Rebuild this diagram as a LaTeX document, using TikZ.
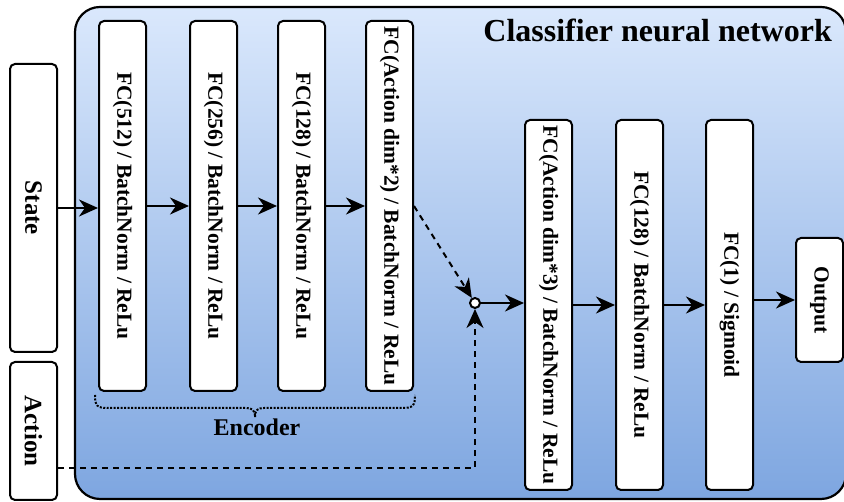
\documentclass[tikz,border=0pt]{standalone}
\usepackage{fontspec}
\setmainfont{Liberation Serif}
\usepackage{graphicx}
\usetikzlibrary{arrows.meta}
\definecolor{panetop}{HTML}{DAE8FC}
\definecolor{panebottom}{HTML}{7EA6E0}
\begin{document}
\begin{tikzpicture}[x=1pt,y=1pt,
  layer/.style={draw, line width=2pt, fill=white, rounded corners=5pt,
    inner sep=0pt, minimum width=47pt, minimum height=370pt,
    font=\fontsize{21.5}{24}\selectfont\bfseries},
  io/.style={layer, minimum height=288pt},
  arr/.style={line width=2pt, -{Stealth[length=19pt, width=17pt, inset=6pt]}},
  dash line/.style={arr, dash pattern=on 6pt off 5pt}]
\useasboundingbox (0,0) rectangle (844,502);

% classifier container with vertical gradient
\draw[line width=2.2pt, rounded corners=25pt, top color=panetop, bottom color=panebottom]
  (75,3) rectangle (846,495);
\node[anchor=base east, inner sep=0pt, font=\fontsize{32}{36}\selectfont\bfseries]
  (title) at (832,460) {Classifier neural network};

% inputs
\node[io, font=\fontsize{25}{28}\selectfont\bfseries] (state) at (33.5,294) {\rotatebox{-90}{State}};
\node[io, minimum height=138pt, font=\fontsize{25}{28}\selectfont\bfseries] (action) at (33.5,71) {\rotatebox{-90}{Action}};

% encoder layers
\node[layer] (e1) at (122.5,296) {\rotatebox{-90}{FC(512) / BatchNorm / ReLu}};
\node[layer] (e2) at (213.5,296) {\rotatebox{-90}{FC(256) / BatchNorm / ReLu}};
\node[layer] (e3) at (301.5,296) {\rotatebox{-90}{FC(128) / BatchNorm / ReLu}};
\node[layer] (e4) at (389.5,296) {\rotatebox{-90}{FC(Action dim*2) / BatchNorm / ReLu}};

% classifier head
\node[layer] (c1) at (548.5,197) {\rotatebox{-90}{FC(Action dim*3) / BatchNorm / ReLu}};
\node[layer] (c2) at (639.5,197) {\rotatebox{-90}{FC(128) / BatchNorm / ReLu}};
\node[layer] (c3) at (729.5,197) {\rotatebox{-90}{FC(1) / Sigmoid}};
\node[layer, minimum height=124pt] (out) at (819.5,202) {\rotatebox{-90}{Output}};

% concatenation point
\node[circle, draw, line width=2pt, fill=white, inner sep=0pt, minimum size=10pt] (j) at (475,199) {};

% connectors
\draw[arr] (state.east) -- (state.east -| e1.west);
\draw[arr] (e1.east) -- (e2.west);
\draw[arr] (e2.east) -- (e3.west);
\draw[arr] (e3.east) -- (e4.west);
\draw[dash line] (e4.east) -- (j);
\draw[dash line] ([yshift=-37pt]action.east) -| (j);
\draw[arr] (j) -- (j -| c1.west);
\draw[arr] (c1.east) -- (c2.west);
\draw[arr] (c2.east) -- (c3.west);
\draw[arr] (out.west -| c3.east) -- (out.west);

% encoder brace
\draw[line width=2pt, dash pattern=on 2pt off 1.5pt]
  (95,107) .. controls (95,96) and (97,94) .. (108,94) -- (246,94)
  .. controls (252,94) and (255,92) .. (255,85)
  .. controls (255,92) and (258,94) .. (264,94) -- (402,94)
  .. controls (413,94) and (415,96) .. (415,107);
\node[anchor=base, inner sep=0pt, font=\fontsize{24}{28}\selectfont\bfseries] (enc) at (257,66) {Encoder};
\end{tikzpicture}
\end{document}
